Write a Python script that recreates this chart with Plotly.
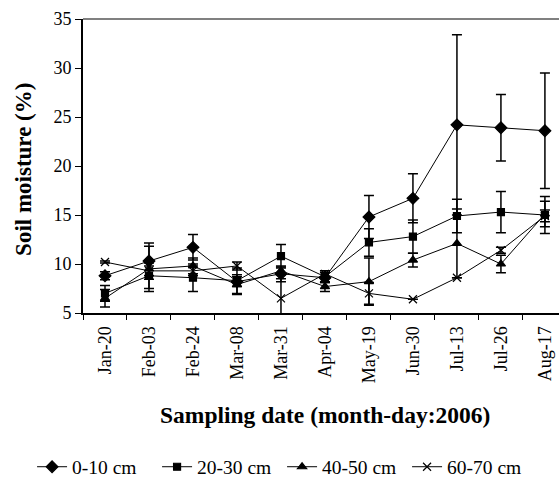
import plotly.graph_objects as go

dates = ["Jan-20", "Feb-03", "Feb-24", "Mar-08", "Mar-31", "Apr-04",
         "May-19", "Jun-30", "Jul-13", "Jul-26", "Aug-17"]

d0_10 = [8.8, 10.3, 11.7, 8.2, 9.0, 8.6, 14.8, 16.7, 24.2, 23.9, 23.6]
e0_10 = [0.4, 1.85, 1.3, 0.5, 0.8, 0.5, 2.2, 2.5, 9.2, 3.4, 5.9]

d20_30 = [7.0, 8.8, 8.6, 8.3, 10.8, 8.7, 12.2, 12.8, 14.9, 15.3, 15.0]
e20_30 = [0.8, 1.3, 1.4, 1.3, 1.2, 0.6, 1.4, 1.7, 1.7, 2.1, 1.9]

d40_50 = [6.5, 9.5, 9.8, 7.9, 9.3, 7.7, 8.2, 10.4, 12.1, 10.0, 15.1]
e40_50 = [0.9, 2.3, 0.8, 1.0, 0.4, 0.5, 2.4, 0.7, 3.5, 0.9, 1.3]

d60_70 = [10.2, 9.3, 9.3, 9.8, 6.5, 9.0, 7.0, 6.4, 8.6, 11.4, 14.9]
e60_70 = [0.1, 0.5, 0.5, 0.4, 2.0, 0.3, 1.1, 0.0, 0.0, 0.3, 0.6]

series = [
    ("0-10 cm", d0_10, e0_10, "diamond", 9),
    ("20-30 cm", d20_30, e20_30, "square", 7),
    ("40-50 cm", d40_50, e40_50, "triangle-up", 8),
    ("60-70 cm", d60_70, e60_70, "x-thin", 8),
]

FONT = "Liberation Serif, Times New Roman, serif"

fig = go.Figure()
for name, vals, errs, sym, sz in series:
    fig.add_trace(go.Scatter(
        x=dates, y=vals, name=name, mode="lines+markers",
        line=dict(color="black", width=1),
        marker=dict(symbol=sym, size=sz, color="black",
                    line=dict(color="black", width=1.2)),
        error_y=dict(type="data", array=errs, visible=True,
                     color="black", thickness=1.5, width=5),
        cliponaxis=True,
    ))

fig.update_layout(
    width=559, height=477,
    margin=dict(l=83, r=0, t=19, b=164, autoexpand=False),
    paper_bgcolor="white", plot_bgcolor="white",
    font=dict(family=FONT, size=18, color="black"),
    showlegend=True,
    legend=dict(orientation="h", x=-0.107, xanchor="left",
                y=-0.524, yanchor="middle",
                font=dict(family=FONT, size=19.5, color="black"),
                itemwidth=30, entrywidth=80, tracegroupgap=0,
                bgcolor="rgba(0,0,0,0)"),
    xaxis=dict(
        type="category", range=[-0.5, 10.32],
        showline=True, linecolor="black", linewidth=2,
        ticks="outside", tickson="boundaries", ticklen=5,
        tickcolor="black", tickwidth=1,
        tickangle=-90, showgrid=False, zeroline=False,
        ticklabelstandoff=4, automargin=False,
        tickfont=dict(family=FONT, size=18, color="black"),
    ),
    yaxis=dict(
        range=[5, 35], tickvals=[5, 10, 15, 20, 25, 30, 35],
        showline=True, linecolor="black", linewidth=2,
        ticks="outside", ticklen=6, tickcolor="black", tickwidth=1,
        showgrid=False, zeroline=False, automargin=False,
        tickfont=dict(family=FONT, size=18, color="black"),
    ),
    shapes=[dict(type="line", xref="paper", yref="paper",
                 x0=0, x1=1, y0=1, y1=1,
                 line=dict(color="#808080", width=2))],
    annotations=[
        dict(text="<b>Soil moisture (%)</b>", xref="paper", yref="paper",
             x=-0.124, y=0.49, textangle=-90, showarrow=False,
             font=dict(family=FONT, size=23, color="black"),
             xanchor="center", yanchor="middle"),
        dict(text="<b>Sampling date (month-day:2006)</b>", xref="paper",
             yref="paper", x=0.508, y=-0.347, showarrow=False,
             font=dict(family=FONT, size=23.5, color="black"),
             xanchor="center", yanchor="middle"),
    ],
)

fig.write_html("out.html")
